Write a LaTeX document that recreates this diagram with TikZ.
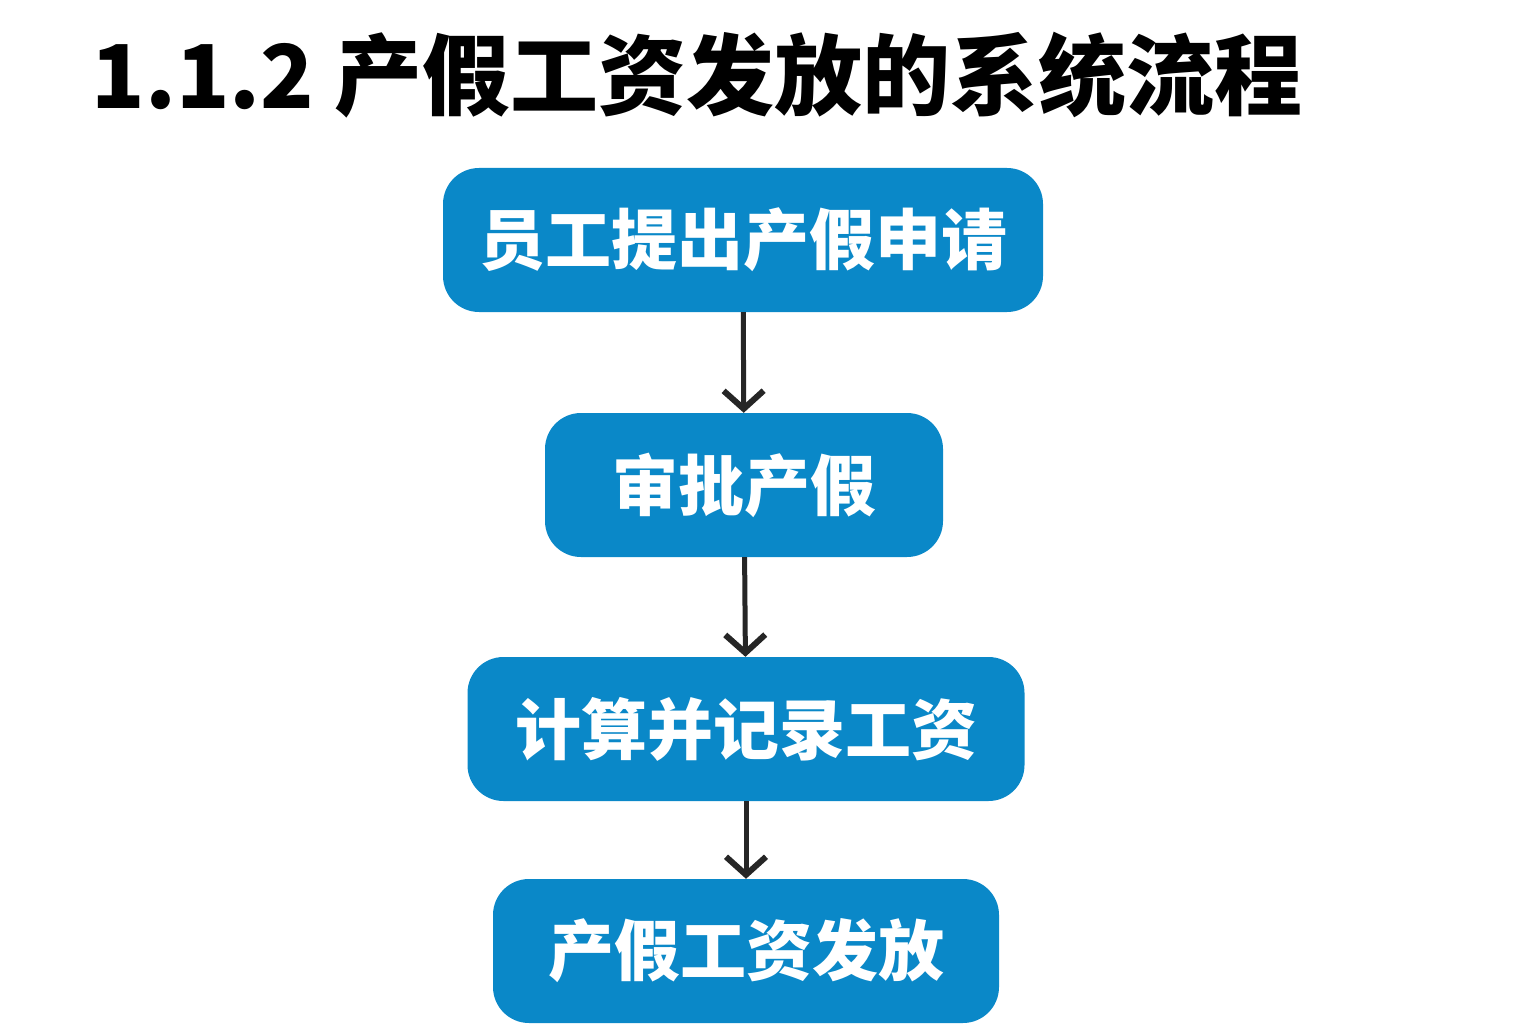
\documentclass[tikz,border=0pt]{standalone}
\usepackage{fontspec}
\newfontfamily\cjk{Noto Sans CJK SC}
\usetikzlibrary{positioning, arrows.meta}
\definecolor{boxblue}{HTML}{0A88C8}
\tikzset{
  flowbox/.style={rectangle, rounded corners=36pt, fill=boxblue, text=white,
    font=\cjk\bfseries\fontsize{66}{72}\selectfont, minimum height=144pt, inner sep=0pt},
  flowarrow/.style={-{Straight Barb[length=18pt,width=40pt,line width=6pt]}, line width=5pt, draw=black!85}
}
\begin{document}
\begin{tikzpicture}[x=1pt, y=-1pt]
  \useasboundingbox (0,0) rectangle (1536,1024);
  \node[anchor=west, font=\cjk\bfseries\fontsize{88}{96}\selectfont] (title) at (88,75) {1.1.2 产假工资发放的系统流程};
  \node[flowbox, minimum width=600pt] (apply)   at (743,240) {员工提出产假申请};
  \node[flowbox, minimum width=398pt] (approve) at (744,485) {审批产假};
  \node[flowbox, minimum width=557pt] (calc)    at (746,729) {计算并记录工资};
  \node[flowbox, minimum width=506pt] (pay)     at (746,951) {产假工资发放};
  \draw[flowarrow] (apply) -- (approve);
  \draw[flowarrow] (approve) -- (calc);
  \draw[flowarrow] (calc) -- (pay);
\end{tikzpicture}
\end{document}
